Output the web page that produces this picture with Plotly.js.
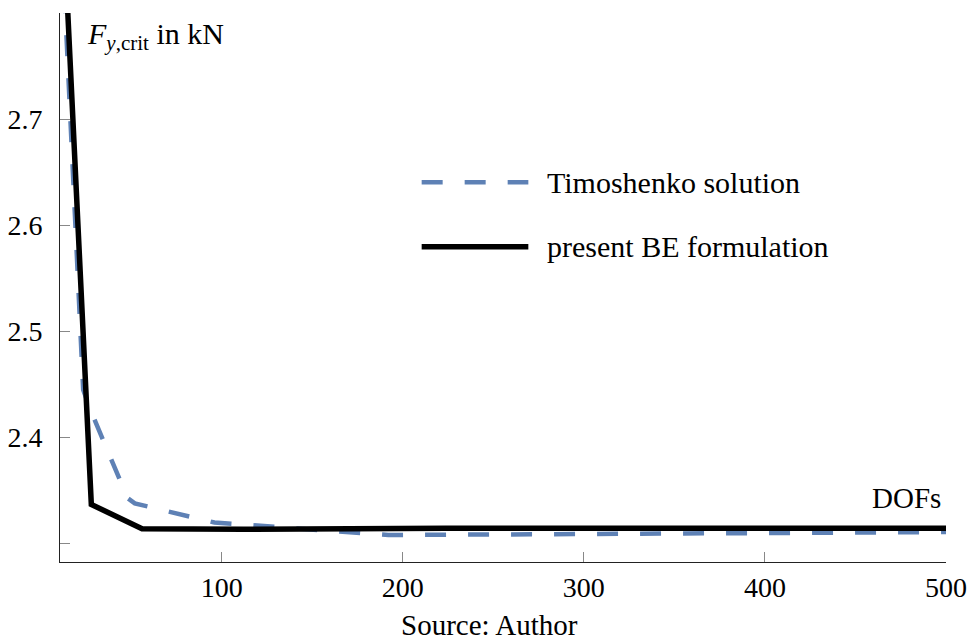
<!DOCTYPE html>
<html>
<head>
<meta charset="utf-8">
<script src="https://cdn.plot.ly/plotly-3.0.1.min.js"></script>
<style>html,body{margin:0;padding:0;background:#fff;}#chart{width:971px;height:640px;}</style>
</head>
<body>
<div id="chart"></div>
<script>
// Data
const timoshenkoDOFs = [12, 23.5, 28, 48, 52, 96, 192, 300, 400, 500];
const timoshenkoF    = [2.86, 2.445, 2.424, 2.343, 2.338, 2.320, 2.3082, 2.3095, 2.3105, 2.3110];
const presentDOFs = [14, 28, 56, 112, 224, 500];
const presentF    = [2.836, 2.337, 2.3142, 2.3136, 2.3147, 2.3147];
const xTickVals = [100, 200, 300, 400, 500];
const xTickText = ['100', '200', '300', '400', '500'];
const yTickVals = [2.4, 2.5, 2.6, 2.7];
const yTickText = ['2.4', '2.5', '2.6', '2.7'];
const yTickMarks = [2.3, 2.4, 2.5, 2.6, 2.7];
const seriesNames = ['Timoshenko solution', 'present BE formulation'];

const blue = '#5e81b5';
const serif = 'Liberation Serif';

const traces = [
  {x: timoshenkoDOFs, y: timoshenkoF, mode: 'lines', name: seriesNames[0], showlegend: false,
   line: {color: blue, width: 4.5, dash: '21px,22px'}},
  {x: presentDOFs, y: presentF, mode: 'lines', name: seriesNames[1], showlegend: false,
   line: {color: '#000', width: 5.5}}
];

const layout = {
  width: 971, height: 640,
  margin: {l: 60, r: 25, t: 13, b: 78},
  paper_bgcolor: '#fff', plot_bgcolor: '#fff',
  font: {family: serif, size: 28, color: '#000'},
  xaxis: {range: [10.7, 500], tickmode: 'array', tickvals: xTickVals, ticktext: xTickText,
          showgrid: false, zeroline: false, showline: true, linecolor: '#222', linewidth: 1,
          ticks: 'inside', ticklen: 10, tickcolor: '#888', tickwidth: 1,
          tickfont: {family: serif, size: 28, color: '#000'}, ticklabelstandoff: 0},
  yaxis: {range: [2.2828, 2.8], tickmode: 'array', tickvals: yTickVals, ticktext: yTickText,
          showgrid: false, zeroline: false, showline: true, linecolor: '#222', linewidth: 1,
          ticks: 'inside', ticklen: 10, tickcolor: '#888', tickwidth: 1,
          minor: {tickmode: 'array', tickvals: yTickMarks, ticks: 'inside', ticklen: 10,
                  tickcolor: '#888', tickwidth: 1, showgrid: false},
          tickfont: {family: serif, size: 28, color: '#000'}, ticklabelstandoff: 11},
  shapes: [
    {type: 'line', xref: 'paper', yref: 'paper', x0: 0.4082, x1: 0.5286, y0: 0.6915, y1: 0.6915,
     line: {color: blue, width: 4.5, dash: '21px,22px'}},
    {type: 'line', xref: 'paper', yref: 'paper', x0: 0.4082, x1: 0.5286, y0: 0.5741, y1: 0.5741,
     line: {color: '#000', width: 5.5}}
  ],
  annotations: [
    {xref: 'paper', yref: 'paper', x: 0.5474, y: 0.6915, xanchor: 'left', yanchor: 'middle',
     text: seriesNames[0], showarrow: false, font: {family: serif, size: 30, color: '#000'}},
    {xref: 'paper', yref: 'paper', x: 0.5474, y: 0.5741, xanchor: 'left', yanchor: 'middle',
     text: seriesNames[1], showarrow: false, font: {family: serif, size: 30, color: '#000'}},
    {xref: 'paper', yref: 'paper', x: 0.028, y: 0.997, xanchor: 'left', yanchor: 'top',
     text: '<i>F</i><sub><i>y</i>,crit</sub> in kN', showarrow: false,
     font: {family: serif, size: 30, color: '#000'}},
    {xref: 'paper', yref: 'paper', x: 0.9966, y: 0.117, xanchor: 'right', yanchor: 'middle',
     text: 'DOFs', showarrow: false, font: {family: serif, size: 29, color: '#000'}},
    {xref: 'paper', yref: 'paper', x: 0.4842, y: -0.1154, xanchor: 'center', yanchor: 'middle',
     text: 'Source: Author', showarrow: false, font: {family: serif, size: 29, color: '#000'}}
  ]
};

Plotly.newPlot('chart', traces, layout, {staticPlot: true, displayModeBar: false});
</script>
</body>
</html>
